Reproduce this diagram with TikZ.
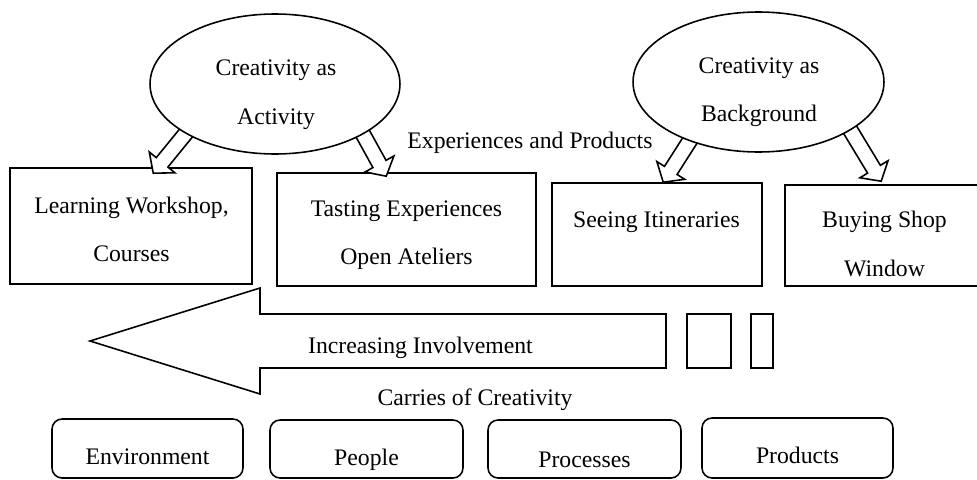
\documentclass[tikz,border=0pt]{standalone}
\usepackage{fontspec}
\setmainfont{Liberation Serif}
\usetikzlibrary{shapes.geometric,calc,positioning}
\pgfdeclarelayer{front}
\pgfsetlayers{main,front}
\tikzset{
  line/.style={line width=0.9pt,draw=black},
  oval/.style={line,ellipse,fill=white,inner sep=0pt,minimum width=5cm,minimum height=2.8cm},
  box/.style={line,rectangle,inner sep=0pt},
  pill/.style={box,rounded corners=0.2cm},
  txt/.style={font=\fontsize{13.5}{27.6}\selectfont,align=center,inner sep=0pt},
  hollow/.style={line,fill=white,line join=miter},
}
% hollow block arrow from #1 to the tip #2
\newcommand{\hollowarrow}[2]{%
  \draw[hollow] let \p1=(#1), \p2=(#2), \p3=($(\p2)-(\p1)$),
    \n1={atan2(\y3,\x3)}, \n2={veclen(\x3,\y3)} in
    (\p1) ++(\n1+90:0.15cm) -- ++(\n1:\n2-0.28cm) -- ++(\n1+90:0.18cm) -- (\p2)
    -- ($(\p2)+(\n1+180:0.28cm)+(\n1-90:0.33cm)$) -- ++(\n1+90:0.18cm)
    -- ++(\n1+180:\n2-0.28cm) -- cycle;}

\begin{document}
\begin{tikzpicture}[x=0.02cm,y=-0.02cm]
  \useasboundingbox[fill=white] (0,0) rectangle (977,480);
  \begin{pgfonlayer}{front}
    \node[oval] (act) at (275,84) {};
    \node[oval,minimum width=5.02cm] (bg) at (758.5,82) {};
    \node[txt] (actT) at (276,94.6) {Creativity as\\Activity};
    \node[txt] (bgT) at (759,92) {Creativity as\\Background};
  \end{pgfonlayer}
  \node[box,minimum width=4.84cm,minimum height=2.32cm] (learn) at (131,226) {};
  \node[box,minimum width=5.18cm,minimum height=2.26cm] (taste) at (406.5,229.5) {};
  \node[box,minimum width=4.2cm,minimum height=2.06cm] (see) at (657,234.5) {};
  \node[box,minimum width=3.96cm,minimum height=2.02cm] (buy) at (884,235.5) {};
  \node[txt] (learnT) at (131.5,229.4) {Learning Workshop,\\Courses};
  \node[txt] (tasteT) at (406.5,235.3) {Tasting Experiences\\Open Ateliers};
  \node[txt] (seeT) at (656.5,222.5) {Seeing Itineraries};
  \node[txt] (buyT) at (884.5,244) {Buying Shop\\Window};
  \node[txt] (expT) at (530,142.5) {Experiences and Products};
  \hollowarrow{$(act)!0.9!(act.207)$}{$(learn.north west)+(144,6)$}
  \hollowarrow{$(act)!0.9!(act.333)$}{$(taste.north west)+(110,4)$}
  \hollowarrow{$(bg)!0.9!(bg.219)$}{$(see.north west)+(112,0)$}
  \hollowarrow{$(bg)!0.9!(bg.335)$}{$(buy.north west)+(97,-3)$}
  \draw[hollow] (666,314) -- (260,314) -- (260,288) -- (90,341) -- (260,394) -- (260,368) -- (666,368) -- cycle;
  \node[txt] (incT) at (420.5,347.8) {Increasing Involvement};
  \draw[line] (687,314) rectangle (731,368);
  \draw[line] (751,314) rectangle (773,368);
  \node[txt] (carT) at (475,399.5) {Carries of Creativity};
  \node[pill,minimum width=3.82cm,minimum height=1.18cm] (env) at (147.5,448.5) {};
  \node[pill,minimum width=3.86cm,minimum height=1.16cm] (peo) at (366.5,449) {};
  \node[pill,minimum width=3.86cm,minimum height=1.16cm] (pro) at (584.5,449) {};
  \node[pill,minimum width=3.82cm,minimum height=1.2cm] (prd) at (797.5,448) {};
  \node[txt] (envT) at (147.5,457) {Environment};
  \node[txt] (peoT) at (366.5,459.5) {People};
  \node[txt] (proT) at (584.5,459.5) {Processes};
  \node[txt] (prdT) at (797.5,455) {Products};
\end{tikzpicture}
\end{document}
